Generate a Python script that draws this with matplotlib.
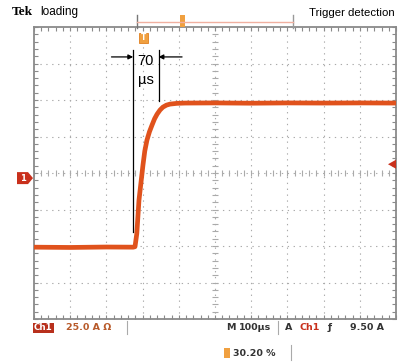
import numpy as np
import matplotlib
matplotlib.use("Agg")
import matplotlib.pyplot as plt
from matplotlib.patches import Polygon, Rectangle
from matplotlib.transforms import blended_transform_factory

# ---- acquisition settings -------------------------------------------------
time_per_div_us = 100          # M 100 µs
amps_per_div = 25.0            # Ch1 25.0 A
trigger_level_a = 9.50         # trigger level
trigger_pos_pct = 30.20        # trigger position in record
record_us = 1000               # 10 divisions
ground_offset_a = -3.5         # ch1 ground sits slightly below screen centre

# ---- Ch1 current trace (µs, A) --------------------------------------------
time_us = [0, 100, 200, 274, 279, 284, 290, 296, 301, 306, 312, 319, 326,
           333, 340, 348, 356, 366, 376, 395, 417, 500, 600, 700, 800, 900, 1000]
current_a = [-47.3, -47.5, -47.2, -47.3, -47.0, -38.0, -15.1, -2.0, 8.9, 18.5,
             26.0, 31.8, 36.3, 40.6, 43.8, 46.6, 48.6, 50.0, 50.7, 51.2, 51.4,
             51.5, 51.3, 51.5, 51.4, 51.5, 51.4]

# rise-time annotation
rise_start_us = 274
rise_time_us = 70

W, H = 404, 363
fig = plt.figure(figsize=(W / 100, H / 100), dpi=100)
fig.patch.set_facecolor("white")
ax = fig.add_axes([34 / W, 1 - 319 / H, 362 / W, 292 / H])

# overlay in pixel coordinates for the screen furniture
ov = fig.add_axes([0, 0, 1, 1], zorder=5)
ov.set_xlim(0, W)
ov.set_ylim(H, 0)
ov.axis("off")
ov.patch.set_alpha(0)

y_lo = -4 * amps_per_div - ground_offset_a
y_hi = 4 * amps_per_div - ground_offset_a
ax.set_xlim(0, record_us)
ax.set_ylim(y_lo, y_hi)
a_per_px = (y_hi - y_lo) / 292

grid_col = "#aaaaaa"
border_col = "#8a8a8a"

# graticule
xmaj = np.arange(0, record_us + 1, time_per_div_us)
ymaj = y_lo + np.arange(0, 9) * amps_per_div
for x in xmaj[1:-1]:
    ax.plot([x, x], [y_lo, y_hi], color=grid_col, lw=0.8,
            linestyle=(0, (1.2, 4.1)), zorder=1)
for y in ymaj[1:-1]:
    ax.plot([0, record_us], [y, y], color=grid_col, lw=0.8,
            linestyle=(0, (1.2, 4.1)), zorder=1)

# centre-line minor ticks
xc = record_us / 2
yc = (y_lo + y_hi) / 2
xminor = np.arange(0, record_us + 1, time_per_div_us / 5)
yminor = y_lo + np.arange(0, 41) * amps_per_div / 5
ax.plot(xminor, np.full_like(xminor, yc), linestyle="none", marker="|",
        markersize=4, color=grid_col, mew=0.8, zorder=1)
ax.plot(np.full_like(yminor, xc), yminor, linestyle="none", marker="_",
        markersize=4, color=grid_col, mew=0.8, zorder=1)

ax.set_xticks(xmaj)
ax.set_yticks(ymaj)
ax.set_xticks(xminor, minor=True)
ax.set_yticks(yminor, minor=True)
ax.tick_params(which="both", direction="in", length=3, color=border_col,
               width=0.8, top=True, right=True, labelbottom=False,
               labelleft=False)
for s in ax.spines.values():
    s.set_color(border_col)
    s.set_linewidth(1.3)

# trace
ax.plot(time_us, current_a, color="#e0521c", lw=3.4, solid_capstyle="butt",
        solid_joinstyle="round", zorder=3)

# rise-time cursors and arrows
t0 = rise_start_us
t1 = rise_start_us + rise_time_us
ax.plot([t0, t0], [-37, 88], color="black", lw=0.9, zorder=4)
ax.plot([t1, t1], [53, 88], color="black", lw=0.9, zorder=4)
ax.annotate("", xy=(t0, 83), xytext=(t0 - 60, 83),
            arrowprops=dict(arrowstyle="-|>", color="black", lw=0.9,
                            mutation_scale=7, shrinkA=0, shrinkB=0))
ax.annotate("", xy=(t1, 83), xytext=(t1 + 65, 83),
            arrowprops=dict(arrowstyle="-|>", color="black", lw=0.9,
                            mutation_scale=7, shrinkA=0, shrinkB=0))
ax.text((t0 + t1) / 2, 80, f"{rise_time_us}", ha="center", va="center",
        fontsize=10.5, family="Liberation Sans", zorder=4)
ax.text((t0 + t1) / 2, 67, "µs", ha="center", va="center",
        fontsize=10.5, family="Liberation Sans", zorder=4)

# ground marker (Ch1) on the left edge
gy = blended_transform_factory(ov.transData, ax.transData)
h = 6 * a_per_px
ov.add_patch(Polygon([(17, h), (28, h), (33, 0), (28, -h), (17, -h)],
                     closed=True, facecolor="#c9301c", edgecolor="none",
                     transform=gy, clip_on=False))
ov.text(23, 0, "1", color="white", fontsize=6, weight="bold",
        ha="center", va="center", transform=gy)

# trigger level marker on the right edge
h2 = 4.5 * a_per_px
ov.add_patch(Polygon([(388, trigger_level_a), (396, trigger_level_a + h2),
                      (396, trigger_level_a - h2)], closed=True,
                     facecolor="#c9301c", edgecolor="none", transform=gy,
                     clip_on=False))

# trigger position marker under the top border
trig_t = trigger_pos_pct / 100 * record_us
tx = blended_transform_factory(ax.transData, ov.transData)
ov.add_patch(Rectangle((trig_t - 12, 33), 24, 10, facecolor="#f0a040",
                       edgecolor="#e08020", lw=0.6, transform=tx,
                       clip_on=False))
ov.text(trig_t, 38, "T", color="white", fontsize=5.5, weight="bold",
        ha="center", va="center", transform=tx)

# record bar above the screen
ov.plot([137, 137], [15, 28], color="#777777", lw=1.0)
ov.plot([293, 293], [15, 28], color="#999999", lw=1.0)
ov.plot([137, 293], [21.5, 21.5], color="#f0b0a0", lw=1.0)
ov.add_patch(Rectangle((180, 15), 5, 12, facecolor="#f0a040",
                       edgecolor="none"))

# headers
ov.text(12, 12, "Tek", family="Liberation Serif", weight="bold",
        fontsize=9.5, va="center", ha="left")
ov.text(40, 12, "loading", family="Liberation Sans", fontsize=8.5,
        va="center", ha="left")
ov.text(309, 13, "Trigger detection", family="Liberation Sans",
        fontsize=8.2, va="center", ha="left")

# status line
st = dict(family="DejaVu Sans", weight="bold", fontsize=6.8, va="center",
          ha="left")
ov.add_patch(Rectangle((33, 322.5), 21, 10.5, facecolor="#b8301c",
                       edgecolor="none"))
ov.text(43.5, 328, "Ch1", color="white", **{**st, "ha": "center",
                                            "fontsize": 6.3})
ov.text(66, 328, f"{amps_per_div:.1f} A Ω", color="#b85a2a", **st)
ov.plot([127, 127], [321, 334], color="#aaaaaa", lw=0.8)
ov.text(226, 328, "M", color="#333333", **st)
ov.text(239, 328, f"{time_per_div_us}µs", color="#333333", **st)
ov.plot([278, 278], [321, 334], color="#aaaaaa", lw=0.8)
ov.text(285, 328, "A", color="#333333", **st)
ov.text(300, 328, "Ch1", color="#c8301c", **st)
ov.text(328, 328, "ƒ", color="#333333", **st)
ov.text(350, 328, f"{trigger_level_a:.2f} A", color="#333333", **st)

ov.add_patch(Rectangle((224, 348), 6, 10, facecolor="#f0a040",
                       edgecolor="none"))
ov.text(233, 353, f"{trigger_pos_pct:.2f} %", color="#333333", **st)
ov.plot([291, 291], [345, 360], color="#aaaaaa", lw=0.8)

fig.savefig("out.png", dpi=100, facecolor="white")
